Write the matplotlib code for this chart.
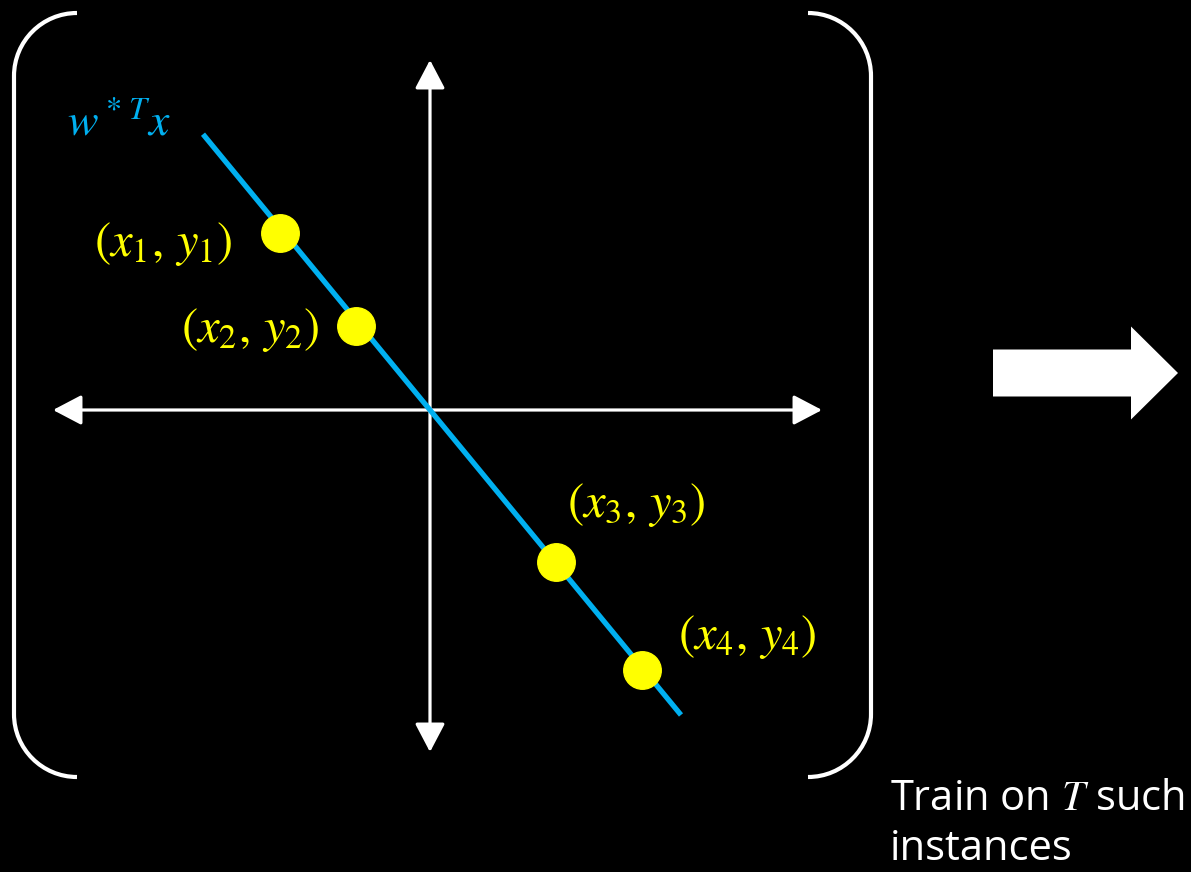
import matplotlib
matplotlib.use("Agg")
import matplotlib.pyplot as plt
import matplotlib.patches as mpatches
from matplotlib.path import Path
import numpy as np

plt.rcParams['mathtext.fontset'] = 'stix'

# Data (coordinates relative to the axis crossing, pixel-like units, y up)
point_x = [-150, -74, 126, 212]
point_y = [177, 84, -152, -260]
point_labels = ['$(x_1,\\,y_1)$', '$(x_2,\\,y_2)$', '$(x_3,\\,y_3)$', '$(x_4,\\,y_4)$']
w_star = -1.215              # slope of the true line w*^T x
line_x = [-227, 251]

# axis extents
x_axis = [-377, 392]
y_axis = [-342, 350]

# bracket box
box_left, box_right = -416, 441
box_top, box_bottom = 397, -367
bracket_r = 63

caption = ['Train on $T$ such', 'instances']

blue = '#00B0F0'
yellow = '#FFFF00'

fig = plt.figure(figsize=(11.91, 8.72), dpi=100, facecolor='black')
ax = fig.add_axes([0, 0, 1, 1])
ax.set_facecolor('black')
ax.set_xlim(-430, 761)
ax.set_ylim(-462, 410)
ax.axis('off')

# coordinate axes (double headed arrows)
arrow_style = '<|-|>,head_length=0.8,head_width=0.42'
ax.annotate('', xy=(x_axis[1], 0), xytext=(x_axis[0], 0),
            arrowprops=dict(arrowstyle=arrow_style, color='white', lw=2.3,
                            mutation_scale=22, shrinkA=0, shrinkB=0))
ax.annotate('', xy=(0, y_axis[1]), xytext=(0, y_axis[0]),
            arrowprops=dict(arrowstyle=arrow_style, color='white', lw=2.3,
                            mutation_scale=22, shrinkA=0, shrinkB=0))

# true regression line
ly = [w_star * v for v in line_x]
ax.plot(line_x, ly, color=blue, lw=3.8, solid_capstyle='butt', zorder=3)
ax.text(-363, 275, '${w^*}^T x$', color=blue, fontsize=33, ha='left', va='baseline')

# training points
ax.plot(point_x, point_y, 'o', color=yellow, markersize=27, zorder=4)
lab_fs = 35
ax.text(point_x[0] - 47, point_y[0] - 11, point_labels[0], color=yellow, fontsize=lab_fs,
        ha='right', va='center')
ax.text(point_x[1] - 36, point_y[1] - 4, point_labels[1], color=yellow, fontsize=lab_fs,
        ha='right', va='center')
ax.text(point_x[2] + 11, point_y[2] + 57, point_labels[2], color=yellow, fontsize=lab_fs,
        ha='left', va='center')
ax.text(point_x[3] + 36, point_y[3] + 33, point_labels[3], color=yellow, fontsize=lab_fs,
        ha='left', va='center')

# brackets
def bracket(x_edge, x_end):
    k = 0.5523 * bracket_r
    s = np.sign(x_end - x_edge)
    verts = [(x_end, box_top),
             (x_end - s * k, box_top), (x_edge, box_top - bracket_r + k), (x_edge, box_top - bracket_r),
             (x_edge, box_bottom + bracket_r),
             (x_edge, box_bottom + bracket_r - k), (x_end - s * k, box_bottom), (x_end, box_bottom)]
    codes = [Path.MOVETO, Path.CURVE4, Path.CURVE4, Path.CURVE4,
             Path.LINETO, Path.CURVE4, Path.CURVE4, Path.CURVE4]
    return mpatches.PathPatch(Path(verts, codes), fill=False, edgecolor='white', lw=3)

ax.add_patch(bracket(box_left, box_left + bracket_r))
ax.add_patch(bracket(box_right, box_right - bracket_r))

# big block arrow
ax.add_patch(mpatches.FancyArrow(563, 37, 185, 0, width=47, head_width=93, head_length=47,
                                 length_includes_head=True, color='white', lw=0))

for i, line in enumerate(caption):
    ax.text(460, -400 - 50 * i, line, color='white', fontsize=30,
            family='Open Sans', ha='left', va='baseline')

fig.savefig('out.png', dpi=100, facecolor='black')
